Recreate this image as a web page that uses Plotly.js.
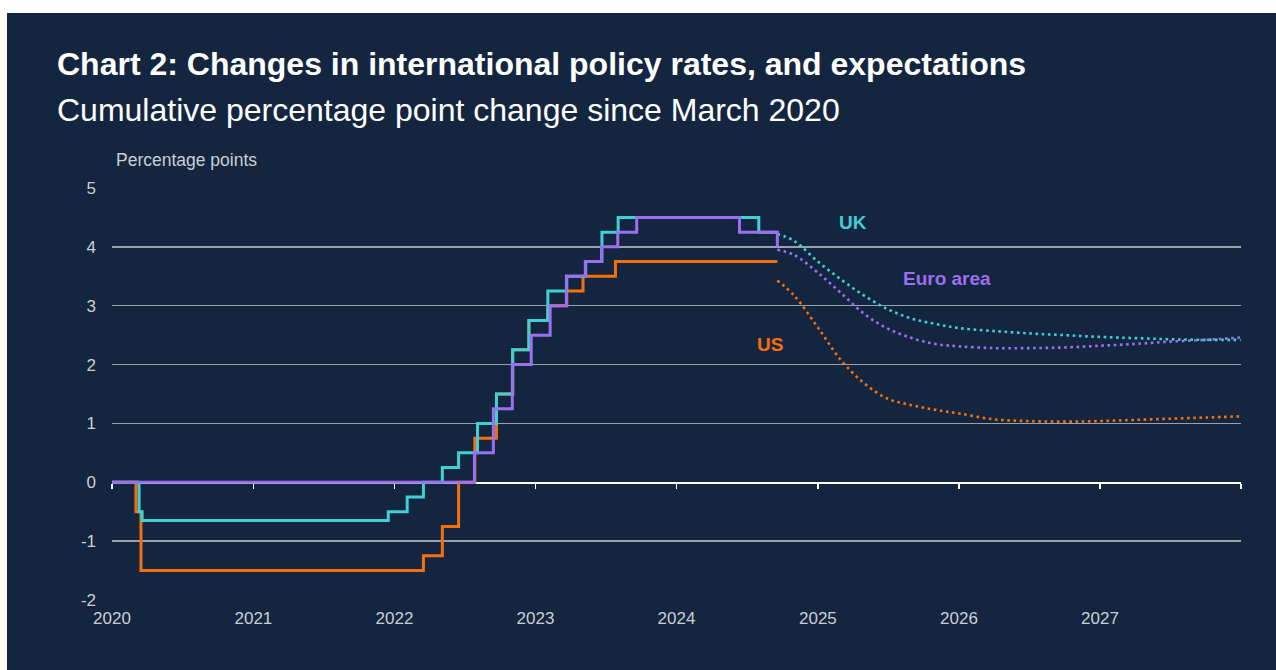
<!DOCTYPE html>
<html><head><meta charset="utf-8">
<script src="https://cdn.plot.ly/plotly-3.0.1.min.js"></script>
<style>
html,body{margin:0;padding:0;background:#ffffff;width:1276px;height:670px;overflow:hidden}
#chart{position:absolute;left:7px;top:13px;width:1269px;height:657px}
</style></head><body><div id="chart"></div>
<script>
// Step series: date of change, cumulative change since March 2020 (pp)
const ukDates = ['2020-01-01','2020-03-11','2020-03-19','2021-12-16','2022-02-03','2022-03-17','2022-05-05','2022-06-16','2022-08-04','2022-09-22','2022-11-03','2022-12-15','2023-02-02','2023-03-23','2023-05-11','2023-06-22','2023-08-03','2024-08-01','2024-09-18'];
const ukValues = [0,-0.5,-0.65,-0.5,-0.25,0,0.25,0.5,1.0,1.5,2.25,2.75,3.25,3.5,3.75,4.25,4.5,4.25,4.25];

const usDates = ['2020-01-01','2020-03-03','2020-03-16','2022-03-17','2022-05-05','2022-06-16','2022-07-28','2022-09-22','2022-11-03','2022-12-15','2023-02-02','2023-03-23','2023-05-04','2023-07-27','2024-09-18'];
const usValues = [0,-0.5,-1.5,-1.25,-0.75,0,0.75,1.5,2.25,2.75,3.0,3.25,3.5,3.75,3.75];

const euDates = ['2020-01-01','2022-07-27','2022-09-14','2022-11-02','2022-12-21','2023-02-08','2023-03-22','2023-05-10','2023-06-21','2023-08-02','2023-09-20','2024-06-12','2024-09-18'];
const euValues = [0,0.5,1.25,2.0,2.5,3.0,3.5,3.75,4.0,4.25,4.5,4.25,4.0];

// Market-implied expectations
const fcDates = ['2024-09-18','2024-11-01','2025-01-01','2025-03-01','2025-05-01','2025-07-01','2025-09-01','2025-11-01','2026-01-01','2026-04-01','2026-07-01','2026-10-01','2027-01-01','2027-04-01','2027-07-01','2027-10-01','2027-12-31'];
const ukForecast = [4.22,4.10,3.75,3.45,3.17,2.94,2.78,2.69,2.62,2.57,2.53,2.50,2.47,2.45,2.43,2.42,2.42];
const euForecast = [3.95,3.86,3.56,3.22,2.86,2.61,2.45,2.35,2.31,2.28,2.28,2.29,2.32,2.35,2.39,2.42,2.46];
const usForecast = [3.43,3.17,2.63,2.08,1.68,1.42,1.31,1.23,1.17,1.07,1.04,1.03,1.04,1.06,1.08,1.10,1.12];

const seriesLabels = ['UK','Euro area','US'];
const yTicks = [-2,-1,0,1,2,3,4,5];
const yTickText = ['-2','-1','0','1','2','3','4','5'];
const xTickYears = ['2020','2021','2022','2023','2024','2025','2026','2027'];

const cUK = '#3ed0d2', cEU = '#9c6ef0', cUS = '#f5700c';
const FONT = '"Liberation Sans", Arial, sans-serif';

const traces = [
  {x: usDates, y: usValues, mode:'lines', line:{shape:'hv', color:cUS, width:3}, hoverinfo:'skip'},
  {x: ukDates, y: ukValues, mode:'lines', line:{shape:'hv', color:cUK, width:3}, hoverinfo:'skip'},
  {x: euDates, y: euValues, mode:'lines', line:{shape:'hv', color:cEU, width:3}, hoverinfo:'skip', xaxis:'x2'},
  {x: fcDates, y: usForecast, mode:'lines', line:{shape:'spline', color:cUS, width:2.6, dash:'2.6px,3.6px'}, hoverinfo:'skip'},
  {x: fcDates, y: euForecast, mode:'lines', line:{shape:'spline', color:cEU, width:2.6, dash:'2.6px,3.6px'}, hoverinfo:'skip'},
  {x: fcDates, y: ukForecast, mode:'lines', line:{shape:'spline', color:cUK, width:2.6, dash:'2.6px,3.6px'}, hoverinfo:'skip'}
];

const tickColor = '#c9ced5';
const layout = {
  width:1269, height:657,
  paper_bgcolor:'#14263f', plot_bgcolor:'#14263f',
  margin:{l:105, r:35, t:175, b:70},
  showlegend:false,
  font:{family:FONT, color:tickColor},
  xaxis:{
    type:'date', range:['2020-01-01','2028-01-01'],
    tickvals: xTickYears.map(y => y + '-01-01'), ticktext: xTickYears,
    showgrid:false, zeroline:false, showline:false, ticks:'',
    tickfont:{size:17, color:tickColor, family:FONT}, ticklabelstandoff:6
  },
  xaxis2:{
    type:'date', matches:'x', overlaying:'x', anchor:'free', position:2/7,
    showline:true, linecolor:'#ffffff', linewidth:1.5,
    ticks:'outside', ticklen:5, tickwidth:1.5, tickcolor:'#ffffff',
    tick0:'2020-01-01', dtick:'M12', showticklabels:false, showgrid:false, zeroline:false,
    layer:'below traces'
  },
  yaxis:{
    range:[-2,5], tickvals:yTicks, ticktext:yTickText, showgrid:true, gridcolor:'#9aa1aa', gridwidth:1.3,
    zeroline:false, showline:false, ticks:'',
    tickfont:{size:17, color:tickColor, family:FONT}, ticklabelstandoff:15
  },
  annotations:[
    {xref:'paper', yref:'paper', x:-0.0497, y:1.3, xanchor:'left', yanchor:'middle', showarrow:false, borderpad:0,
     text:'<b>Chart 2: Changes in international policy rates, and expectations</b>', font:{size:32, color:'#ffffff', family:FONT}},
    {xref:'paper', yref:'paper', x:-0.0497, y:1.19, xanchor:'left', yanchor:'middle', showarrow:false, borderpad:0,
     text:'Cumulative percentage point change since March 2020', font:{size:32, color:'#ffffff', family:FONT}},
    {xref:'paper', yref:'paper', x:0.0024, y:1.068, xanchor:'left', yanchor:'middle', showarrow:false, borderpad:0,
     text:'Percentage points', font:{size:17.5, color:tickColor, family:FONT}},
    {x:'2025-04-01', y:4.42, xref:'x', yref:'y', showarrow:false, text:'<b>'+seriesLabels[0]+'</b>', font:{size:19, color:cUK, family:FONT}},
    {x:'2025-12-01', y:3.47, xref:'x', yref:'y', showarrow:false, text:'<b>'+seriesLabels[1]+'</b>', font:{size:19, color:cEU, family:FONT}},
    {x:'2024-08-30', y:2.34, xref:'x', yref:'y', showarrow:false, text:'<b>'+seriesLabels[2]+'</b>', font:{size:19, color:cUS, family:FONT}}
  ]
};

Plotly.newPlot('chart', traces, layout, {displayModeBar:false, staticPlot:true});
</script></body></html>
